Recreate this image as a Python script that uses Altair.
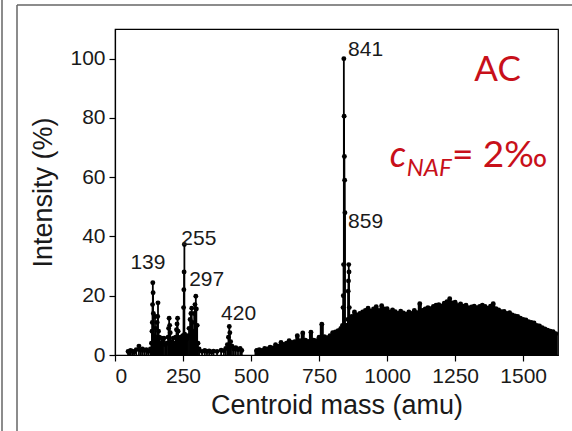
import altair as alt
import pandas as pd

# ---------------- data ----------------
# discrete peaks (mass in amu, intensity in %)
peak_mass = [48, 52, 57, 63, 70, 78, 88, 95, 101, 108, 115, 122,
             130, 134, 136, 137, 138, 139, 140, 141, 142,
             145, 147, 149, 152, 155, 157, 158, 160, 163,
             168, 172, 176, 180, 185, 190, 195, 197, 199, 201, 203, 207,
             211, 214, 218, 223, 226, 228, 230, 232, 236, 241, 245, 249,
             252, 253, 254, 255, 256, 260, 264, 268, 272, 276, 279, 282, 285, 288,
             291, 294, 297, 299, 302, 305, 309,
             320, 330, 338, 346, 355, 362, 375, 390, 400, 407, 413, 417, 420, 422, 425, 430, 437, 444, 452, 460, 466,
             836, 838, 839, 840, 841, 842, 843, 844, 845,
             855, 856, 857, 858, 859, 860, 861]
peak_int = [1.2, 1.0, 1.5, 1.3, 1.0, 1.8, 3.0, 1.6, 2.0, 1.5, 1.8, 1.2,
            2.0, 4.0, 8.0, 11.0, 17.0, 24.4, 21.0, 14.0, 6.5,
            5.0, 13.0, 9.0, 6.0, 11.0, 13.0, 17.6, 8.0, 6.0,
            4.0, 5.7, 5.0, 5.7, 3.5, 4.0, 6.0, 9.0, 12.4, 10.0, 7.5, 4.5,
            3.5, 5.7, 4.0, 6.0, 8.5, 10.5, 12.4, 8.0, 5.5, 6.0, 5.5, 6.5,
            16.0, 22.0, 28.0, 37.3, 7.0, 6.0, 5.5, 6.5, 9.0, 12.0, 14.0, 15.8, 11.0, 8.0,
            14.0, 17.0, 19.8, 15.5, 10.0, 4.0, 2.0,
            1.2, 1.5, 1.2, 1.4, 1.0, 1.3, 1.2, 1.6, 1.4, 2.2, 3.5, 6.0, 9.6, 7.5, 4.5, 3.0, 2.0, 2.5, 1.8, 2.2, 1.5,
            10.0, 16.0, 20.0, 30.5, 100.0, 80.6, 67.0, 59.0, 48.0,
            10.0, 12.0, 21.5, 25.0, 30.5, 28.0, 16.0]

# dense high-mass region (every 10 amu)
band_mass = list(range(520, 1621, 10))
band_int = [1.5, 1.8, 1.5, 2.2, 2.0, 2.6, 2.4, 3.5, 3.0, 4.2,
            3.6, 4.0, 4.8, 4.2, 4.5, 6.5, 4.8, 7.4, 5.0, 4.6,
            7.7, 5.0, 4.8, 6.0, 10.4, 6.2, 5.8, 6.5, 7.5, 7.8,
            8.2, 9.0, 9.5, 10.0, 10.5, 13.0, 14.5, 13.5, 14.0, 14.5,
            15.0, 15.8, 14.8, 15.5, 16.3, 15.0, 16.6, 15.5, 15.6, 14.5,
            15.2, 14.6, 14.0, 14.8, 14.2, 13.8, 14.5, 14.0, 15.0, 14.3,
            17.3, 15.0, 15.5, 16.0, 15.6, 16.4, 16.8, 17.0, 16.5, 17.5,
            18.0, 19.0, 17.6, 17.8, 16.7, 17.2, 16.5, 16.8, 15.9, 16.2,
            16.5, 16.0, 16.4, 16.8, 16.4, 15.8, 16.5, 17.3, 15.6, 15.2,
            14.6, 14.7, 14.0, 14.3, 13.5, 13.2, 13.0, 12.4, 12.0, 11.8,
            11.2, 11.0, 10.8, 10.0, 9.8, 9.2, 8.8, 8.4, 8.0, 7.9, 7.2, 6.8][:len(band_mass)]

# peak labels: text, anchor (amu, %)
label_text = ["139", "255", "297", "420", "841", "859"]
label_x = [121, 308, 337, 454, 921, 921]
label_y = [31.2, 39.3, 25.4, 13.9, 102.9, 45.0]

x_ticks = list(range(0, 1626, 125))
y_ticks = list(range(0, 111, 10))

peaks = pd.DataFrame({"mass": peak_mass, "intensity": peak_int})
band = pd.DataFrame({"mass": band_mass, "intensity": band_int})
labels = pd.DataFrame({"text": label_text, "x": label_x, "y": label_y})

FONT = "Liberation Sans"
RED = "#c8101a"

xscale = alt.Scale(domain=[0, 1628], nice=False, zero=False)
yscale = alt.Scale(domain=[0, 110], nice=False, zero=False)

xaxis = alt.Axis(values=x_ticks, format="d",
                 labelExpr="datum.value % 250 === 0 ? datum.label : ''",
                 tickSize={"condition": {"test": "datum.value % 250 === 0", "value": 6}, "value": 3},
                 title="Centroid mass (amu)", grid=False, labelOverlap=False)
yaxis = alt.Axis(values=y_ticks,
                 labelExpr="datum.value % 20 === 0 ? datum.label : ''",
                 tickSize={"condition": {"test": "datum.value % 20 === 0", "value": 6}, "value": 3},
                 title="Intensity (%)", grid=False, labelOverlap=False)

band_stems = alt.Chart(band).mark_rule(color="black", strokeWidth=4).encode(
    x=alt.X("mass:Q", scale=xscale, axis=xaxis),
    y=alt.Y("intensity:Q", scale=yscale, axis=yaxis),
    y2=alt.datum(0),
)
band_dots = alt.Chart(band).mark_circle(color="black", size=24, opacity=1).encode(
    x=alt.X("mass:Q", scale=xscale),
    y=alt.Y("intensity:Q", scale=yscale),
)
peak_stems = alt.Chart(peaks).mark_rule(color="black", strokeWidth=1.8).encode(
    x=alt.X("mass:Q", scale=xscale),
    y=alt.Y("intensity:Q", scale=yscale),
    y2=alt.datum(0),
)
peak_dots = alt.Chart(peaks).mark_circle(color="black", size=24, opacity=1).encode(
    x=alt.X("mass:Q", scale=xscale),
    y=alt.Y("intensity:Q", scale=yscale),
)
peak_labels = alt.Chart(labels).mark_text(font=FONT, fontSize=21, color="#1a1a1a",
                                          align="center", baseline="middle").encode(
    x=alt.X("x:Q", scale=xscale),
    y=alt.Y("y:Q", scale=yscale),
    text="text:N",
)

ac = alt.Chart(pd.DataFrame({"t": ["AC"], "x": [1406], "y": [92.5]})).mark_text(
    font="Lato", fontSize=35, color=RED, align="center", baseline="alphabetic").encode(
    x=alt.X("x:Q", scale=xscale), y=alt.Y("y:Q", scale=yscale), text="t:N")
c_txt = alt.Chart(pd.DataFrame({"t": ["c"], "x": [1010], "y": [63.4]})).mark_text(
    font="Lato", fontSize=36, fontStyle="italic", color=RED, align="left", baseline="alphabetic").encode(
    x=alt.X("x:Q", scale=xscale), y=alt.Y("y:Q", scale=yscale), text="t:N")
naf_txt = alt.Chart(pd.DataFrame({"t": ["NAF"], "x": [1072], "y": [60.4]})).mark_text(
    font="Lato", fontSize=24, fontStyle="italic", color=RED, align="left", baseline="alphabetic").encode(
    x=alt.X("x:Q", scale=xscale), y=alt.Y("y:Q", scale=yscale), text="t:N")
eq_txt = alt.Chart(pd.DataFrame({"t": ["= 2‰"], "x": [1238], "y": [63.4]})).mark_text(
    font="Lato", fontSize=37, color=RED, align="left", baseline="alphabetic").encode(
    x=alt.X("x:Q", scale=xscale), y=alt.Y("y:Q", scale=yscale), text="t:N")

# outer frame lines of the figure (decoration)
frame_left = alt.Chart(pd.DataFrame({"a": [0]})).mark_rule(color="#666", strokeWidth=1.5).encode(
    x=alt.value(-113), y=alt.value(-29), y2=alt.value(402))
frame_inner = alt.Chart(pd.DataFrame({"a": [0]})).mark_rule(color="#666", strokeWidth=1.5).encode(
    x=alt.value(-98), y=alt.value(-24), y2=alt.value(402))
frame_top = alt.Chart(pd.DataFrame({"a": [0]})).mark_rule(color="#666", strokeWidth=1.5).encode(
    x=alt.value(-98), x2=alt.value(457), y=alt.value(-24))

chart = alt.layer(
    band_stems, band_dots, peak_stems, peak_dots, peak_labels,
    ac, c_txt, naf_txt, eq_txt, frame_left, frame_inner, frame_top,
).properties(
    width=443, height=326,
    padding={"left": 115, "top": 29, "right": 14, "bottom": 76},
    autosize=alt.AutoSizeParams(type="none"),
    background="white",
).configure_view(
    stroke="black", strokeWidth=1.2,
).configure_axis(
    domainColor="black", tickColor="black", tickWidth=1.2, domainWidth=1.2,
    labelFont=FONT, labelFontSize=21, labelColor="#1a1a1a", labelPadding=4,
    titleFont=FONT, titleFontSize=27, titleColor="#1a1a1a", titleFontWeight="normal",
).configure_axisX(
    titlePadding=6,
).configure_axisY(
    titlePadding=12,
)

chart.save("out.html", embed_options={"renderer": "svg", "actions": False})
